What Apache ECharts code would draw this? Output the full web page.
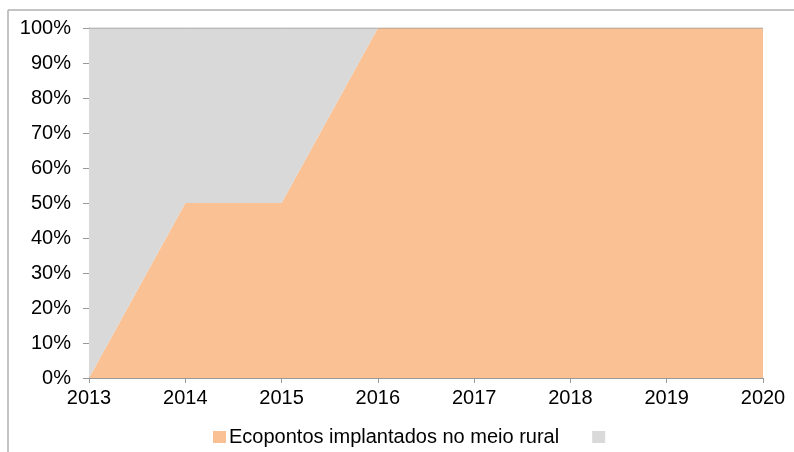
<!DOCTYPE html>
<html>
<head>
<meta charset="utf-8">
<script src="https://cdn.jsdelivr.net/npm/echarts@6/dist/echarts.min.js"></script>
<style>
  html, body { margin: 0; padding: 0; background: #fff; }
  #chart { width: 794px; height: 452px; }
</style>
</head>
<body>
<div id="chart"></div>
<script>
const years = ['2013', '2014', '2015', '2016', '2017', '2018', '2019', '2020'];
const ruralValues = [0, 50, 50, 100, 100, 100, 100, 100];
const restValues = [100, 50, 50, 0, 0, 0, 0, 0];

const chart = echarts.init(document.getElementById('chart'));
const font = 'Liberation Sans, Arial, sans-serif';

chart.setOption({
  animation: false,
  textStyle: { fontFamily: font },
  grid: { left: 89, right: 31, top: 28, bottom: 74 },
  // moldura do gráfico (só topo e esquerda visíveis)
  graphic: [
    { type: 'line', shape: { x1: 8, y1: 10, x2: 794, y2: 10 }, style: { stroke: '#b0b0b0', lineWidth: 1.5 } },
    { type: 'line', shape: { x1: 8, y1: 10, x2: 8, y2: 452 }, style: { stroke: '#b0b0b0', lineWidth: 1.5 } }
  ],
  legend: {
    top: 422,
    left: 208,
    itemWidth: 13,
    itemHeight: 12,
    itemGap: 33,
    icon: 'rect',
    textStyle: { fontSize: 20, color: '#000', fontFamily: font, padding: [0, 0, 0, -2] },
    data: ['Ecopontos implantados no meio rural', ' ']
  },
  xAxis: {
    type: 'category',
    data: years,
    boundaryGap: false,
    axisLine: { lineStyle: { color: '#999', width: 1 } },
    axisTick: { length: 5, lineStyle: { color: '#999' } },
    axisLabel: { fontSize: 20, color: '#000', margin: 10 },
    splitLine: { show: false }
  },
  yAxis: {
    type: 'value',
    min: 0,
    max: 100,
    interval: 10,
    axisLine: { show: true, lineStyle: { color: '#999', width: 1 } },
    axisTick: { show: true, length: 6, lineStyle: { color: '#999' } },
    axisLabel: { fontSize: 20, color: '#000', margin: 18, formatter: '{value}%' },
    splitLine: { show: false }
  },
  series: [
    {
      name: 'Ecopontos implantados no meio rural',
      type: 'line',
      stack: 'total',
      data: ruralValues,
      symbol: 'none',
      lineStyle: { width: 0 },
      itemStyle: { color: '#F9C194' },
      areaStyle: { color: '#F9C194', opacity: 1 }
    },
    {
      name: ' ',
      type: 'line',
      stack: 'total',
      data: restValues,
      symbol: 'none',
      lineStyle: { width: 1, color: '#999' },
      itemStyle: { color: '#D9D9D9' },
      areaStyle: { color: '#D9D9D9', opacity: 1 }
    }
  ]
});
</script>
</body>
</html>
